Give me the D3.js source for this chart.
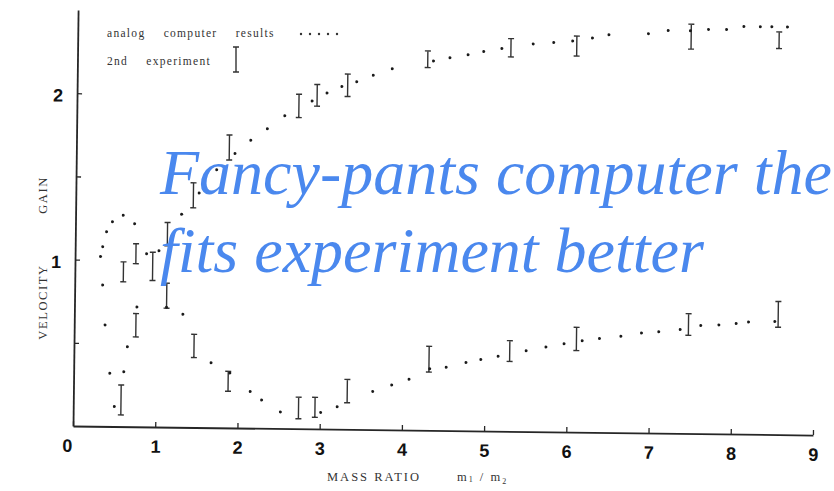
<!DOCTYPE html>
<html><head><meta charset="utf-8">
<script src="https://cdn.jsdelivr.net/npm/d3@7"></script>
<style>
html,body{margin:0;padding:0;background:#fff;}
svg{display:block;}
</style></head>
<body><svg id="chart" width="834" height="491"></svg>
<script>
// ---- data ----
const xTicks = [0,1,2,3,4,5,6,7,8,9];
const yTicks = [0.5,1,1.5,2];
const yTickLabels = ["", "1", "", "2"];

// analog computer results (dots)
const analogX = [1.29,1.50,1.71,1.93,2.12,2.32,2.53,2.86,3.04,3.22,3.40,3.60,3.83,4.33,4.53,4.75,4.94,5.16,5.54,5.79,6.02,6.26,6.46,6.94,7.18,7.45,7.67,7.89,8.10,8.30,8.44,8.63,
  0.31,0.335,0.38,0.45,0.58,0.72,0.87,1.02,
  0.34,0.375,0.44,0.50,0.61,0.65,0.76,1.12,1.32,1.67,
  1.90,2.15,2.29,2.52,3.01,3.21,3.64,3.87,4.08,4.33,4.53,4.77,4.95,5.16,5.50,5.74,5.96,6.18,6.39,6.65,6.90,7.11,7.37,7.62,7.84,8.05,8.20,8.52];
const analogY = [1.28,1.41,1.55,1.65,1.73,1.80,1.88,1.97,2.02,2.06,2.09,2.13,2.17,2.22,2.24,2.26,2.28,2.30,2.33,2.34,2.35,2.37,2.39,2.40,2.42,2.42,2.43,2.43,2.45,2.45,2.45,2.45,
  1.02,1.08,1.17,1.23,1.27,1.22,1.04,1.06,
  0.85,0.61,0.32,0.12,0.33,0.48,0.72,0.72,0.68,0.39,
  0.33,0.22,0.17,0.10,0.10,0.135,0.23,0.27,0.305,0.37,0.38,0.41,0.43,0.45,0.485,0.51,0.53,0.55,0.565,0.58,0.60,0.61,0.625,0.65,0.655,0.665,0.675,0.68];

// 2nd experiment (error bars)
const expX    = [0.58,0.59,0.74,0.75,0.945,1.12,1.12,1.43,1.46,1.86,1.88,2.70,2.74,2.92,2.94,3.29,3.33,4.26,4.32,5.27,5.30,6.07,6.11,7.46,7.47,8.53,8.56];
const expLow  = [0.07,0.87,0.98,0.54,0.88,1.09,0.715,1.32,0.42,1.61,0.22,1.87,0.06,1.94,0.07,2.00,0.16,2.18,0.35,2.25,0.42,2.26,0.49,2.31,0.59,2.32,0.645];
const expHigh = [0.25,0.99,1.10,0.68,1.05,1.23,0.865,1.47,0.56,1.76,0.34,2.01,0.19,2.07,0.19,2.135,0.30,2.28,0.505,2.36,0.545,2.38,0.63,2.46,0.72,2.42,0.80];

const legendLabels = ["analog computer results", "2nd experiment"];
const xTitle = "MASS RATIO";
const yTitleWords = ["VELOCITY", "GAIN"];
const overlayLines = ["Fancy-pants computer the", "fits experiment better"];

// ---- drawing ----
const svg = d3.select("#chart");
const ink = "#262626";

const x = d3.scaleLinear().domain([0, 9]).range([0, 740]);
const y = d3.scaleLinear().domain([0, 2.5]).range([0, -416]);

const g = svg.append("g").attr("transform", "translate(73,426) rotate(0.7)");

// axes
const xAxis = d3.axisBottom(x).tickValues(xTicks).tickFormat(d3.format("d"))
  .tickSizeInner(-5).tickSizeOuter(0).tickPadding(13);
const gx = g.append("g").call(xAxis);
gx.select(".domain").attr("stroke", ink).attr("stroke-width", 1.8);
gx.selectAll(".tick line").attr("stroke", ink).attr("stroke-width", 1.3);
gx.selectAll(".tick text").attr("fill", "#111").attr("font-family", "Liberation Sans, Arial, sans-serif")
  .attr("font-weight", "bold").attr("font-size", 18).attr("dx", d => d === 0 ? -6 : 0);

const yAxis = d3.axisLeft(y).tickValues(yTicks).tickFormat((d, i) => yTickLabels[i])
  .tickSizeInner(-5).tickSizeOuter(0).tickPadding(14);
const gy = g.append("g").call(yAxis);
gy.select(".domain").attr("stroke", ink).attr("stroke-width", 1.8);
gy.selectAll(".tick line").attr("stroke", ink).attr("stroke-width", 1.3);
gy.selectAll(".tick text").attr("fill", "#111").attr("font-family", "Liberation Sans, Arial, sans-serif")
  .attr("font-weight", "bold").attr("font-size", 18).attr("dy", "0.45em");

// error bars
const cap = 3;
const eb = g.append("g").attr("stroke", "#333").attr("stroke-width", 1.4).attr("fill", "none");
expX.forEach((xv, i) => {
  const px = x(xv), y0 = y(expLow[i]), y1 = y(expHigh[i]);
  eb.append("path").attr("d", `M${px},${y0}V${y1}M${px-cap},${y0}H${px+cap}M${px-cap},${y1}H${px+cap}`);
});

// analog dots
g.append("g").selectAll("circle").data(analogX).join("circle")
  .attr("cx", d => x(d)).attr("cy", (d, i) => y(analogY[i])).attr("r", 1.5).attr("fill", "#1a1a1a");

// legend
const serif = "Liberation Serif, Times New Roman, serif";
const leg = svg.append("g").attr("font-family", serif).attr("font-size", 11.5).attr("fill", "#333");
leg.append("text").attr("x", 107).attr("y", 37).attr("letter-spacing", 1.3).attr("word-spacing", 14).text(legendLabels[0]);
leg.append("text").attr("x", 107).attr("y", 65).attr("letter-spacing", 1.3).attr("word-spacing", 14).text(legendLabels[1]);
leg.selectAll("circle").data(d3.range(5)).join("circle")
  .attr("cx", d => 301 + d * 9).attr("cy", 34).attr("r", 1.2).attr("fill", "#333");
leg.append("path").attr("stroke", "#333").attr("stroke-width", 1.4).attr("fill", "none")
  .attr("d", "M236,47V72M233,47H239M233,72H239");

// axis titles
const xt = svg.append("text").attr("x", 327).attr("y", 481).attr("font-family", serif)
  .attr("font-size", 12.5).attr("fill", "#333").attr("letter-spacing", 2);
xt.append("tspan").text(xTitle);
xt.append("tspan").attr("x", 457).text("m");
xt.append("tspan").attr("font-size", 8).attr("dy", 1).text("1");
xt.append("tspan").attr("dy", -1).text(" / m");
xt.append("tspan").attr("font-size", 8).attr("dy", 3).text("2");

svg.append("text").attr("transform", "translate(47,302) rotate(-90)").attr("text-anchor", "middle")
  .attr("font-family", serif).attr("font-size", 12.5).attr("fill", "#333").attr("letter-spacing", 1.6).text(yTitleWords[0]);
svg.append("text").attr("transform", "translate(47,195) rotate(-90)").attr("text-anchor", "middle")
  .attr("font-family", serif).attr("font-size", 12.5).attr("fill", "#333").attr("letter-spacing", 1.6).text(yTitleWords[1]);

// overlay caption
const ov = svg.append("g").attr("font-family", serif).attr("font-style", "italic")
  .attr("font-size", 64).attr("fill", "#4a88ee");
ov.append("text").attr("x", 160).attr("y", 194).text(overlayLines[0]);
ov.append("text").attr("x", 160).attr("y", 272).text(overlayLines[1]);
</script>
</body></html>
